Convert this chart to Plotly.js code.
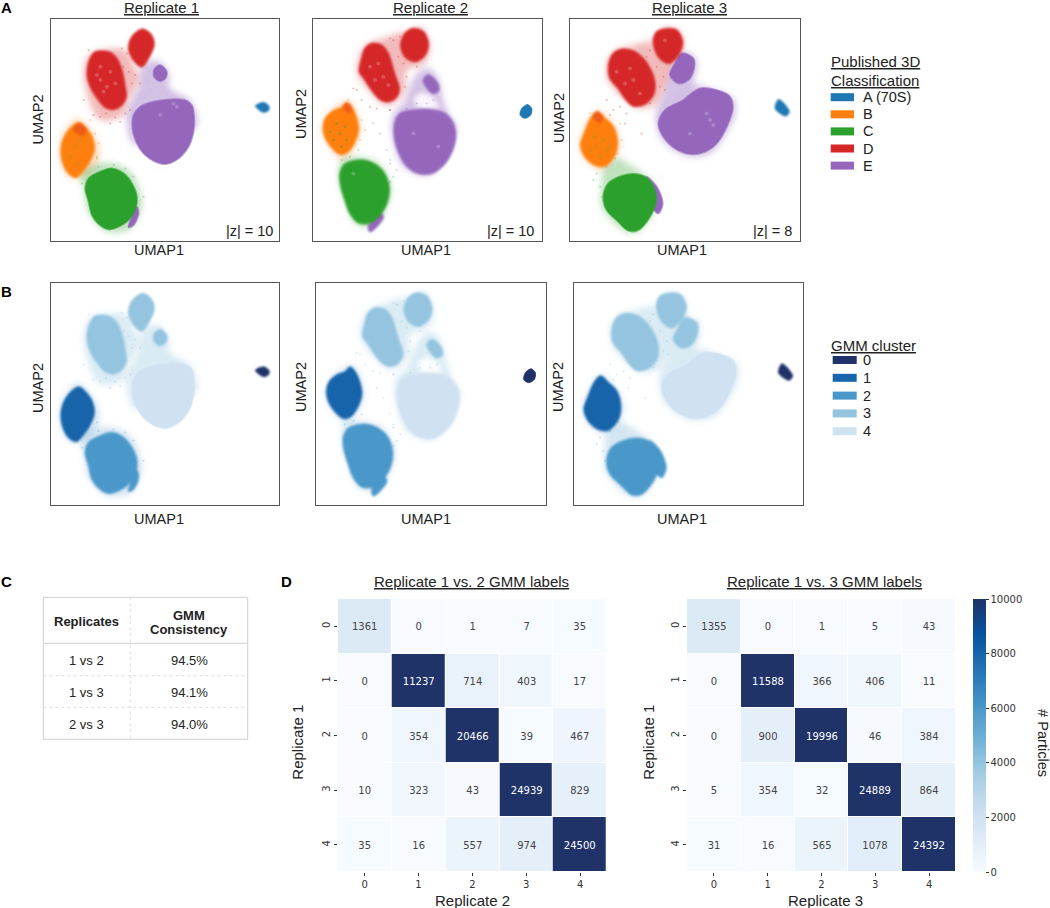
<!DOCTYPE html>
<html><head><meta charset="utf-8">
<script src="https://cdn.plot.ly/plotly-3.0.1.min.js"></script>
<style>html,body{margin:0;padding:0;background:#fff}#c{width:1050px;height:908px}</style></head>
<body><div id="c"></div>
<script>
// ---------- data ----------
const classLabels = ['A (70S)','B','C','D','E'];
const classColors = ['#1f77b4','#ff7f0e','#2ca02c','#d62728','#9467bd'];
const gmmLabels = ['0','1','2','3','4'];
const gmmColors = ['#1f3369','#1764ab','#4a98c9','#94c4df','#d0e1f2'];
const zLabels = ['|z| = 10','|z| = 10','|z| = 8'];

// UMAP outlines, replicate 1
const R1_A = [[766,318],[778,310],[795,308],[808,320],[805,332],[790,337],[775,328]];
const R1_B = [[235,368],[258,385],[275,410],[282,445],[270,480],[250,510],[228,532],[205,520],[190,495],[182,455],[188,420],[205,390]];
const R1_C = [[300,515],[335,505],[370,520],[395,550],[410,590],[405,630],[385,660],[355,680],[325,688],[295,672],[275,645],[265,605],[255,565],[265,535]];
const R1_D_big = [[285,155],[325,155],[350,175],[365,210],[375,260],[378,290],[365,315],[340,328],[315,322],[295,300],[275,270],[262,235],[262,200],[272,170]];
const R1_D_top = [[425,87],[450,100],[462,130],[450,165],[425,200],[400,180],[385,145],[395,110]];
const R1_E_main = [[400,345],[420,320],[460,305],[510,298],[555,300],[575,315],[582,350],[580,395],[565,440],[535,475],[495,492],[460,482],[430,460],[408,425],[397,385]];
const R1_E_small = [[480,195],[500,215],[495,235],[478,243],[462,230],[462,208]];
const R1_E_low = [[410,620],[415,640],[400,675],[385,682],[395,650]];
const R1_halo_D = [[300,150],[375,150],[400,190],[415,240],[385,300],[370,345],[300,360],[265,300],[250,215],[265,165]];
const R1_halo_E = [[425,195],[470,180],[505,215],[510,265],[570,300],[590,380],[400,430],[380,340],[415,260]];
const R1_halo_C = [[240,520],[275,495],[340,490],[395,520],[425,600],[415,650],[385,690],[320,695],[265,640],[250,570]];
const R1_halo_B = [[228,355],[265,380],[298,450],[290,490],[250,530],[205,530],[178,470],[185,410]];
const R1_mix = [[218,390],[235,368],[258,385],[250,408]];
const R1_spk_D = [[318,340],[300,350],[345,352],[280,345],[375,340],[390,330],[360,365],[330,370],[405,225],[395,250],[420,250],[385,215],[370,200],[250,300],[380,160],[365,145],[265,150]];
const R1_spk_E = [[425,285],[450,275],[480,270],[505,280],[395,320],[385,345],[410,290],[440,245],[520,290],[395,440],[470,500],[500,500],[418,605],[420,625]];
const R1_spk_C = [[265,490],[295,500],[340,495],[375,505],[400,530],[290,475],[245,550],[430,590]];
const R1_spk_B = [[285,400],[295,430],[290,470],[270,360]];
const R1_flecks = [[300,240],[320,260],[345,250],[290,225],[330,215],[310,275],[480,345],[530,320],[520,310],[300,200]];
const R1_inB = [[225,440],[210,470],[240,420],[230,490]];
const R1_hole = [];

// UMAP outlines, replicate 2
const R2_A = [[712,313],[725,325],[722,345],[705,355],[690,345],[695,325]];
const R2_B = [[170,308],[185,322],[198,350],[205,390],[192,430],[170,458],[150,462],[125,442],[105,410],[100,380],[108,352],[130,332],[155,322]];
const R2_C = [[215,480],[250,490],[280,515],[297,560],[292,605],[270,645],[240,668],[205,668],[180,640],[165,600],[152,555],[150,520],[165,492]];
const R2_D_big = [[245,130],[275,135],[295,160],[305,190],[315,225],[328,265],[320,290],[295,305],[270,298],[245,270],[222,235],[208,215],[215,175],[225,145]];
const R2_D_top = [[370,85],[400,95],[415,130],[405,165],[375,185],[345,170],[332,135],[345,100]];
const R2_E_main = [[330,340],[370,330],[420,328],[465,340],[490,370],[497,410],[488,450],[465,490],[430,518],[385,520],[350,498],[325,455],[313,410],[315,365]];
const R2_E_small = [[415,225],[440,245],[447,270],[430,280],[410,262],[400,240]];
const R2_E_low = [[265,635],[280,650],[260,680],[240,695],[235,680],[245,660]];
const R2_halo_D = [[250,122],[320,110],[390,80],[420,130],[405,190],[350,210],[345,270],[320,305],[285,315],[235,270],[200,215],[215,150]];
const R2_halo_E = [[385,215],[420,205],[445,235],[460,300],[478,345],[500,385],[420,525],[340,500],[305,400],[310,340],[340,310],[355,270]];
const R2_halo_C = [[205,470],[260,485],[295,530],[305,570],[285,635],[245,680],[195,670],[165,605],[145,530],[155,480]];
const R2_halo_B = [[175,300],[195,325],[212,380],[195,440],[160,480],[120,445],[95,390],[115,340]];
const R2_mix = [[158,322],[170,308],[185,320],[180,340]];
const R2_spk_D = [[310,120],[330,110],[340,190],[350,230],[325,170],[300,115],[200,270],[215,300],[240,320],[260,325],[190,265],[230,240],[345,260],[380,200],[300,330]];
const R2_spk_E = [[290,450],[300,480],[320,510],[350,325],[380,310],[450,340],[410,310],[430,300],[270,400],[300,330],[250,370],[295,550]];
const R2_spk_C = [[300,545],[310,530],[155,480],[180,470],[205,450],[300,490]];
const R2_spk_B = [[215,360],[225,390],[210,420],[175,300]];
const R2_flecks = [[265,190],[280,230],[255,240],[240,200],[295,255],[445,440],[370,400],[190,520]];
const R2_inB = [[150,400],[130,420],[165,380],[140,370],[170,420],[120,395],[155,440]];
const R2_hole = [[375,290],[400,278],[430,292],[445,322],[380,322]];

// UMAP outlines, replicate 3
const R3_A = [[685,298],[700,308],[718,335],[708,348],[690,340],[675,325]];
const R3_B = [[142,335],[165,355],[190,380],[202,425],[195,465],[165,498],[135,495],[105,470],[92,435],[105,395],[122,355]];
const R3_C = [[215,528],[250,522],[285,530],[310,560],[318,605],[300,650],[265,690],[235,692],[205,665],[170,630],[160,590],[175,550]];
const R3_D_big = [[215,147],[250,152],[280,175],[303,210],[315,250],[310,285],[285,312],[250,318],[225,295],[205,265],[180,235],[176,195],[190,160]];
const R3_D_top = [[340,87],[380,90],[398,125],[385,165],[355,190],[325,170],[310,125],[320,95]];
const R3_E_main = [[400,300],[450,265],[500,270],[540,290],[548,325],[530,380],[500,430],[465,455],[420,462],[375,445],[340,410],[325,370],[345,330]];
const R3_E_small = [[395,160],[430,175],[432,205],[415,240],[385,250],[360,225],[375,190]];
const R3_E_low = [[290,530],[320,560],[338,610],[325,640],[310,625],[312,570]];
const R3_halo_D = [[215,142],[290,165],[310,120],[345,82],[390,95],[400,135],[370,200],[345,260],[320,310],[270,325],[210,285],[172,235],[175,175]];
const R3_halo_E = [[395,155],[435,170],[440,215],[430,250],[470,262],[550,295],[555,345],[480,460],[400,465],[330,410],[318,340],[340,280],[355,225]];
const R3_halo_C = [[215,475],[245,510],[295,530],[320,570],[320,620],[265,695],[225,695],[155,620],[155,560],[160,510],[190,480]];
const R3_halo_B = [[142,330],[195,380],[210,440],[190,480],[160,510],[115,490],[88,435],[110,370]];
const R3_mix = [[128,350],[142,335],[160,350],[150,370]];
const R3_spk_D = [[210,320],[190,330],[230,340],[300,150],[290,170],[320,200],[340,230],[330,260],[170,300],[225,370],[275,400],[300,310],[345,270],[180,345]];
const R3_spk_E = [[340,340],[320,320],[410,270],[440,250],[460,250],[390,290],[330,530],[345,600],[430,465],[320,345]];
const R3_spk_C = [[140,520],[150,560],[155,590],[130,540],[195,475],[170,500]];
const R3_spk_B = [[210,370],[215,420],[120,340],[205,460]];
const R3_flecks = [[225,250],[250,240],[270,280],[240,205],[200,215],[480,360],[470,340],[420,400],[490,375],[345,120]];
const R3_inB = [[140,440],[120,450],[160,420],[170,450],[150,470],[135,410],[180,440]];
const R3_hole = [];

// confusion matrices
const axisLabels = ['0','1','2','3','4'];
const rep1v2 = [[1361,0,1,7,35],[0,11237,714,403,17],[0,354,20466,39,467],[10,323,43,24939,829],[35,16,557,974,24500]];
const rep1v3 = [[1355,0,1,5,43],[0,11588,366,406,11],[0,900,19996,46,384],[5,354,32,24889,864],[31,16,565,1078,24392]];
const colorbarTicks = [0,2000,4000,6000,8000,10000];
const blues = [[0,'#f7fbff'],[0.125,'#deebf7'],[0.25,'#c6dbef'],[0.375,'#9ecae1'],[0.5,'#6baed6'],[0.625,'#4292c6'],[0.75,'#2171b5'],[0.875,'#08519c'],[1,'#1f3369']];

// table C
const tableRows = ['1 vs 2','1 vs 3','2 vs 3'];
const tableVals = ['94.5%','94.1%','94.0%'];

// ---------- layout helpers ----------
const W=1050,H=908;
const px=x=>x/W, py=y=>1-y/H;
const FONT='"Liberation Sans", Arial, sans-serif', MONO='"DejaVu Sans", sans-serif', TXT='#222';

const reps=[
 {xr:[152,838],yr:[723,55],A:[R1_A],B:[R1_B],C:[R1_C],D:[R1_D_big,R1_D_top],E:[R1_E_main,R1_E_small,R1_E_low],
  main:R1_E_main,small:R1_E_small,low:R1_E_low,hB:R1_halo_B,hC:R1_halo_C,hD:R1_halo_D,hE:R1_halo_E,mix:R1_mix,hole:R1_hole,inB:R1_inB,
  sB:R1_spk_B,sC:R1_spk_C,sD:R1_spk_D,sE:R1_spk_E,fl:R1_flecks},
 {xr:[69,756],yr:[723,55],A:[R2_A],B:[R2_B],C:[R2_C],D:[R2_D_big,R2_D_top],E:[R2_E_main,R2_E_small,R2_E_low],
  main:R2_E_main,small:R2_E_small,low:R2_E_low,hB:R2_halo_B,hC:R2_halo_C,hD:R2_halo_D,hE:R2_halo_E,mix:R2_mix,hole:R2_hole,inB:R2_inB,
  sB:R2_spk_B,sC:R2_spk_C,sD:R2_spk_D,sE:R2_spk_E,fl:R2_flecks},
 {xr:[61,749],yr:[723,55],A:[R3_A],B:[R3_B],C:[R3_C],D:[R3_D_big,R3_D_top],E:[R3_E_main,R3_E_small,R3_E_low],
  main:R3_E_main,small:R3_E_small,low:R3_E_low,hB:R3_halo_B,hC:R3_halo_C,hD:R3_halo_D,hE:R3_halo_E,mix:R3_mix,hole:R3_hole,inB:R3_inB,
  sB:R3_spk_B,sC:R3_spk_C,sD:R3_spk_D,sE:R3_spk_E,fl:R3_flecks}
];
// panel frames in page pixels: [left,right,top,bottom]
const frames=[[51,279.3,18.5,241],[313,542,18.5,241],[570.3,799.7,18.5,241],
              [51,279.3,283,505],[316.3,545.7,283,505],[573.7,803,283,505]];
const heatFrames=[[337.7,607,599,872],[687,956,599,872]];

function rgba(hex,a){const n=parseInt(hex.slice(1),16);return `rgba(${n>>16},${(n>>8)&255},${n&255},${a})`;}
const traces=[];
const blurs={};
function polys(list,color,alpha,lw,ax,blur){
  const x=[],y=[];
  list.forEach(p=>{
    if(!p.length) return;
    // overlap the first points so that the spline closes without a corner
    p.concat(p.slice(0,3)).forEach(q=>{x.push(q[0]);y.push(q[1]);});
    x.push(null);y.push(null);
  });
  traces.push({type:'scatter',mode:'lines',x,y,fill:'toself',fillcolor:rgba(color,alpha),
    line:{color:rgba(color,lw?Math.min(alpha,0.6):0),width:lw||0,shape:'spline',smoothing:0.9},
    hoverinfo:'skip',showlegend:false,xaxis:'x'+ax,yaxis:'y'+ax});
  (blurs[ax]=blurs[ax]||[]).push(blur);
}
function dots(list,color,size,op,ax){
  traces.push({type:'scatter',mode:'markers',x:list.map(q=>q[0]),y:list.map(q=>q[1]),
    marker:{color,size,opacity:op},hoverinfo:'skip',showlegend:false,xaxis:'x'+ax,yaxis:'y'+ax});
  (blurs[ax]=blurs[ax]||[]).push(0.4);
}
const layout={width:W,height:H,margin:{l:0,r:0,t:0,b:0},paper_bgcolor:'#fff',plot_bgcolor:'#fff',
  font:{family:FONT,color:TXT},showlegend:false,shapes:[],annotations:[]};
function note(text,x,y,size,opt){
  const o=opt||{};
  const nudge=o.xanchor==='left'?-2:o.xanchor==='right'?2:0;
  layout.annotations.push(Object.assign({text,x:px(x+nudge),y:py(y),xref:'paper',yref:'paper',showarrow:false,
    xanchor:'center',yanchor:'middle',font:{family:FONT,size,color:TXT}},o));
}
function rect(x0,x1,y0,y1,color){
  layout.shapes.push({type:'rect',xref:'paper',yref:'paper',x0:px(x0),x1:px(x1),y0:py(y0),y1:py(y1),fillcolor:color,line:{width:0}});
}
function rule(x0,y0,x1,y1,dash){
  layout.shapes.push({type:'line',xref:'paper',yref:'paper',x0:px(x0),x1:px(x1),y0:py(y0),y1:py(y1),line:{color:dash?'#dcdcdc':'#cfcfcf',width:1,dash:dash||'solid'}});
}

// ---------- UMAP panels ----------
frames.forEach((f,i)=>{
  const ax=i+1, r=reps[i%3], isA=i<3;
  const sfx=ax===1?'':ax;
  layout['xaxis'+sfx]={domain:[px(f[0]),px(f[1])],range:r.xr,anchor:'y'+sfx,showticklabels:false,ticks:'',showgrid:false,zeroline:false,mirror:true,showline:true,linecolor:'#555',linewidth:1.4};
  layout['yaxis'+sfx]={domain:[py(f[3]),py(f[2])],range:r.yr,anchor:'x'+sfx,showticklabels:false,ticks:'',showgrid:false,zeroline:false,mirror:true,showline:true,linecolor:'#555',linewidth:1.4};
  const axn=sfx;
  if(isA){
    polys([r.hE],classColors[4],0.4,0,axn,3);
    polys([r.hD],classColors[3],0.32,0,axn,3);
    polys([r.hB],classColors[1],0.3,0,axn,3);
    polys([r.hC],classColors[2],0.3,0,axn,3);
    polys([r.hole],'#ffffff',0.85,0,axn,2.5);
    dots(r.sE,classColors[4],2,0.35,axn);
    dots(r.sD,classColors[3],2,0.35,axn);
    dots(r.sC,classColors[2],2,0.3,axn);
    dots(r.sB,classColors[1],2,0.35,axn);
    polys(r.E,classColors[4],1,2,axn,0.8);
    polys(r.D,classColors[3],1,2,axn,0.8);
    polys(r.B,classColors[1],1,2,axn,0.8);
    polys([r.mix],classColors[3],0.4,0,axn,1.5);
    dots(r.inB,classColors[2],3,0.35,axn);
    polys(r.C,classColors[2],1,2,axn,0.8);
    polys(r.A,classColors[0],1,1,axn,0.5);
    dots(r.fl,'#ffffff',4,0.2,axn);
  }else{
    polys([r.hE],gmmColors[3],0.34,0,axn,3);
    polys([r.hD],gmmColors[3],0.34,0,axn,3);
    polys([r.hB],gmmColors[2],0.24,0,axn,3);
    polys([r.hC],gmmColors[2],0.24,0,axn,3);
    polys([r.hole],'#ffffff',0.85,0,axn,2.5);
    dots(r.sE,gmmColors[3],2,0.35,axn);
    dots(r.sD,gmmColors[3],2,0.35,axn);
    dots(r.sC,gmmColors[2],2,0.3,axn);
    polys([r.main],gmmColors[4],1,2,axn,0.8);
    polys(r.D.concat([r.small]),gmmColors[3],1,2,axn,0.8);
    polys(r.B,gmmColors[1],1,2,axn,0.8);
    polys(r.C.concat([r.low]),gmmColors[2],1,2,axn,0.8);
    polys(r.A,gmmColors[0],1,1,axn,0.5);
  }
});

// ---------- heat maps ----------
[rep1v2,rep1v3].forEach((m,i)=>{
  const ax=7+i, f=heatFrames[i];
  layout['xaxis'+ax]={domain:[px(f[0]),px(f[1])],anchor:'y'+ax,type:'category',categoryorder:'array',categoryarray:axisLabels,
    ticks:'outside',ticklen:3,tickwidth:1,tickcolor:'#333',tickfont:{family:MONO,size:10,color:'#333'},showgrid:false,zeroline:false,showline:false};
  layout['yaxis'+ax]={domain:[py(f[3]),py(f[2])],anchor:'x'+ax,type:'category',categoryorder:'array',categoryarray:axisLabels,autorange:'reversed',
    ticks:'outside',ticklen:3,tickwidth:1,tickcolor:'#333',tickangle:-90,tickfont:{family:MONO,size:10,color:'#333'},showgrid:false,zeroline:false,showline:false};
  const t={type:'heatmap',x:axisLabels,y:axisLabels,z:m,zmin:0,zmax:10000,colorscale:blues,xgap:1,ygap:1,
    texttemplate:'%{z:d}',textfont:{family:MONO,size:10},hoverongaps:false,xaxis:'x'+ax,yaxis:'y'+ax,showscale:i===1};
  if(i===1) t.colorbar={x:px(973.3),xanchor:'left',xref:'paper',y:py(735.5),yanchor:'middle',yref:'paper',len:273/H,lenmode:'fraction',thickness:13.4,thicknessmode:'pixels',
    tickvals:colorbarTicks,tickformat:'d',ticks:'outside',ticklen:3,tickwidth:1,tickcolor:'#333',tickfont:{family:MONO,size:10,color:'#333'},outlinewidth:0,xpad:0,ypad:0};
  traces.push(t);
});

// ---------- text ----------
[['A',1,8],['B',1,291],['C',1,581],['D',281,581]].forEach(a=>note('<b>'+a[0]+'</b>',a[1],a[2],15,{xanchor:'left',font:{family:FONT,size:15,color:'#000'}}));
[161,430,689].forEach((x,i)=>note('<u>Replicate '+(i+1)+'</u>',x,7.5,15));
[159,426,681.7].forEach(x=>{note('UMAP1',x,250,14.5);note('UMAP1',x,519.3,14.5);});
[[38,119.5],[301,114],[559,118],[38,388],[301,387],[558,387]].forEach(a=>note('UMAP2',a[0],a[1],14.5,{textangle:-90}));
[273,534,792].forEach((x,i)=>note(zLabels[i],x,231,14.5,{xanchor:'right'}));

// legends
note('<u>Published 3D</u>',830.7,62,15,{xanchor:'left'});
note('<u>Classification</u>',830.7,80,15,{xanchor:'left'});
classLabels.forEach((l,i)=>{const y=97.2+i*17.1;rect(830.7,854,y-4,y+4,classColors[i]);note(l,862.7,y,14.5,{xanchor:'left'});});
note('<u>GMM cluster</u>',830.7,345,15,{xanchor:'left'});
gmmLabels.forEach((l,i)=>{const y=360+i*17.8;rect(832.7,856.7,y-4,y+4,gmmColors[i]);note(l,862.7,y,14.5,{xanchor:'left'});});

// table C
rule(43.3,597.3,247.7,597.3);rule(43.3,739.3,247.7,739.3);rule(43.3,597.3,43.3,739.3);rule(247.7,597.3,247.7,739.3);
rule(43.3,643.3,247.7,643.3);rule(43.3,675.7,247.7,675.7,'dot');rule(43.3,707.3,247.7,707.3,'dot');rule(130.3,597.3,130.3,739.3,'dot');
note('<b>Replicates</b>',86.7,621,13);
note('<b>GMM</b>',189,615,13);note('<b>Consistency</b>',189,629.5,13);
tableRows.forEach((l,i)=>{const y=660+i*32;note(l,86.7,y,13);note(tableVals[i],189,y,13);});

// heat map text
note('<u>Replicate 1 vs. 2 GMM labels</u>',471.7,581.7,15);
note('<u>Replicate 1 vs. 3 GMM labels</u>',824.3,581.7,15);
note('Replicate 2',472.3,900,15);
note('Replicate 3',825,900,15);
note('Replicate 1',298,742.7,15,{textangle:-90});
note('Replicate 1',649,742.7,15,{textangle:-90});
note('# Particles',1043,743,14.6,{textangle:90});

Plotly.newPlot('c',traces,layout,{displayModeBar:false,responsive:false}).then(()=>{
  Object.keys(blurs).forEach(k=>{
    const cls=k===''?'xy':'x'+k+'y'+k;
    document.querySelectorAll('.subplot.'+cls+' .scatterlayer .trace').forEach((el,i)=>{
      if(blurs[k][i]) el.style.filter='blur('+blurs[k][i]+'px)';
    });
  });
});
</script></body></html>
